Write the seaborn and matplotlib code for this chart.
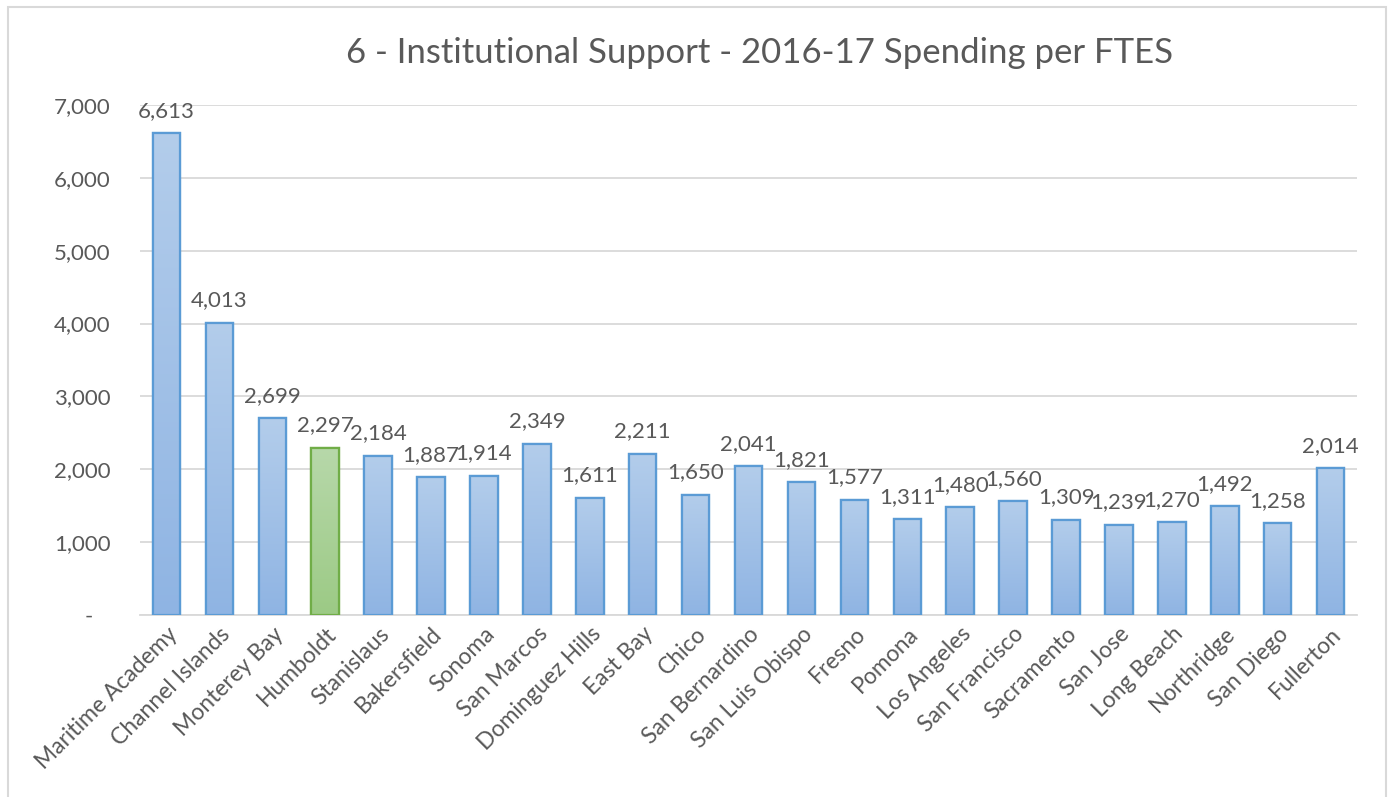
import numpy as np
import pandas as pd
import matplotlib
matplotlib.use("Agg")
import matplotlib.pyplot as plt
import seaborn as sns
from matplotlib.patches import Rectangle
from matplotlib.colors import LinearSegmentedColormap

campuses = ["Maritime Academy", "Channel Islands", "Monterey Bay", "Humboldt", "Stanislaus",
            "Bakersfield", "Sonoma", "San Marcos", "Dominguez Hills", "East Bay", "Chico",
            "San Bernardino", "San Luis Obispo", "Fresno", "Pomona", "Los Angeles",
            "San Francisco", "Sacramento", "San Jose", "Long Beach", "Northridge",
            "San Diego", "Fullerton"]
spending = [6613, 4013, 2699, 2297, 2184, 1887, 1914, 2349, 1611, 2211, 1650, 2041, 1821,
            1577, 1311, 1480, 1560, 1309, 1239, 1270, 1492, 1258, 2014]
highlight = "Humboldt"
yticks = [0, 1000, 2000, 3000, 4000, 5000, 6000, 7000]
ytick_labels = ["-   ", "1,000", "2,000", "3,000", "4,000", "5,000", "6,000", "7,000"]
title = "6 - Institutional Support - 2016-17 Spending per FTES"

df = pd.DataFrame({"campus": campuses, "spending": spending})
df["group"] = np.where(df["campus"] == highlight, "hl", "base")

sns.set_theme(style="white")
plt.rcParams["font.family"] = ["Lato", "DejaVu Sans"]
text_color = "#595959"

fig = plt.figure(figsize=(13.92, 7.97), dpi=100)
ax = fig.add_axes([0.1006, 0.2284, 0.8743, 0.6399])

edge_colors = {"base": "#5b9bd5", "hl": "#70ad47"}
sns.barplot(data=df, x="campus", y="spending", hue="group",
            palette={"base": "#a4c2e8", "hl": "#aad097"}, dodge=False,
            width=0.52, legend=False, ax=ax, zorder=3)

grad = {"base": LinearSegmentedColormap.from_list("b", ["#8fb4e3", "#b3cdeb"]),
        "hl": LinearSegmentedColormap.from_list("g", ["#9cca85", "#b7d8aa"])}
gimg = np.linspace(0, 1, 256).reshape(-1, 1)
for patch in ax.patches:
    h = patch.get_height()
    if h <= 0:
        continue
    x0 = patch.get_x()
    w = patch.get_width()
    xc = x0 + w / 2
    idx = int(round(xc))
    g = df["group"].iloc[idx]
    patch.set_edgecolor(edge_colors[g])
    patch.set_linewidth(1.6)
    im = ax.imshow(gimg, cmap=grad[g], aspect="auto", origin="lower",
                   extent=[x0, x0 + w, 0, h], zorder=3.5)
    im.set_clip_path(patch)
    border = Rectangle((x0, 0), w, h, fill=False, edgecolor=edge_colors[g],
                       linewidth=1.6, zorder=4)
    ax.add_patch(border)
    ax.annotate(f"{int(h):,}", xy=(xc, h), xytext=(0, 9), textcoords="offset points",
                ha="center", va="bottom", fontsize=16, color=text_color, zorder=5)

ax.set_xlim(-0.5, len(campuses) - 0.5)
ax.set_ylim(0, 7000)
ax.set_yticks(yticks)
ax.set_yticklabels(ytick_labels)
ax.yaxis.grid(True, color="#d9d9d9", linewidth=1.3, zorder=0)
ax.set_axisbelow(True)
for s in ["left", "right", "top"]:
    ax.spines[s].set_visible(False)
ax.spines["bottom"].set_color("#d9d9d9")
ax.spines["bottom"].set_linewidth(1.3)
ax.tick_params(axis="y", length=0, pad=21, labelsize=16, labelcolor=text_color)
ax.tick_params(axis="x", length=0, pad=6, labelsize=16.5, labelcolor=text_color)
ax.set_xticks(range(len(campuses)))
ax.set_xticklabels(campuses, rotation=45, ha="right", rotation_mode="anchor")
ax.set_xlabel("")
ax.set_ylabel("")

fig.text(0.546, 0.934, title, ha="center", va="center", fontsize=25, color=text_color)

fig.patches.append(Rectangle((8 / 1392, -0.05), (1386 - 8) / 1392, 1.05 - 7 / 797,
                             transform=fig.transFigure, fill=False,
                             edgecolor="#d9d9d9", linewidth=1.5, figure=fig))

fig.savefig("out.png", dpi=100)
